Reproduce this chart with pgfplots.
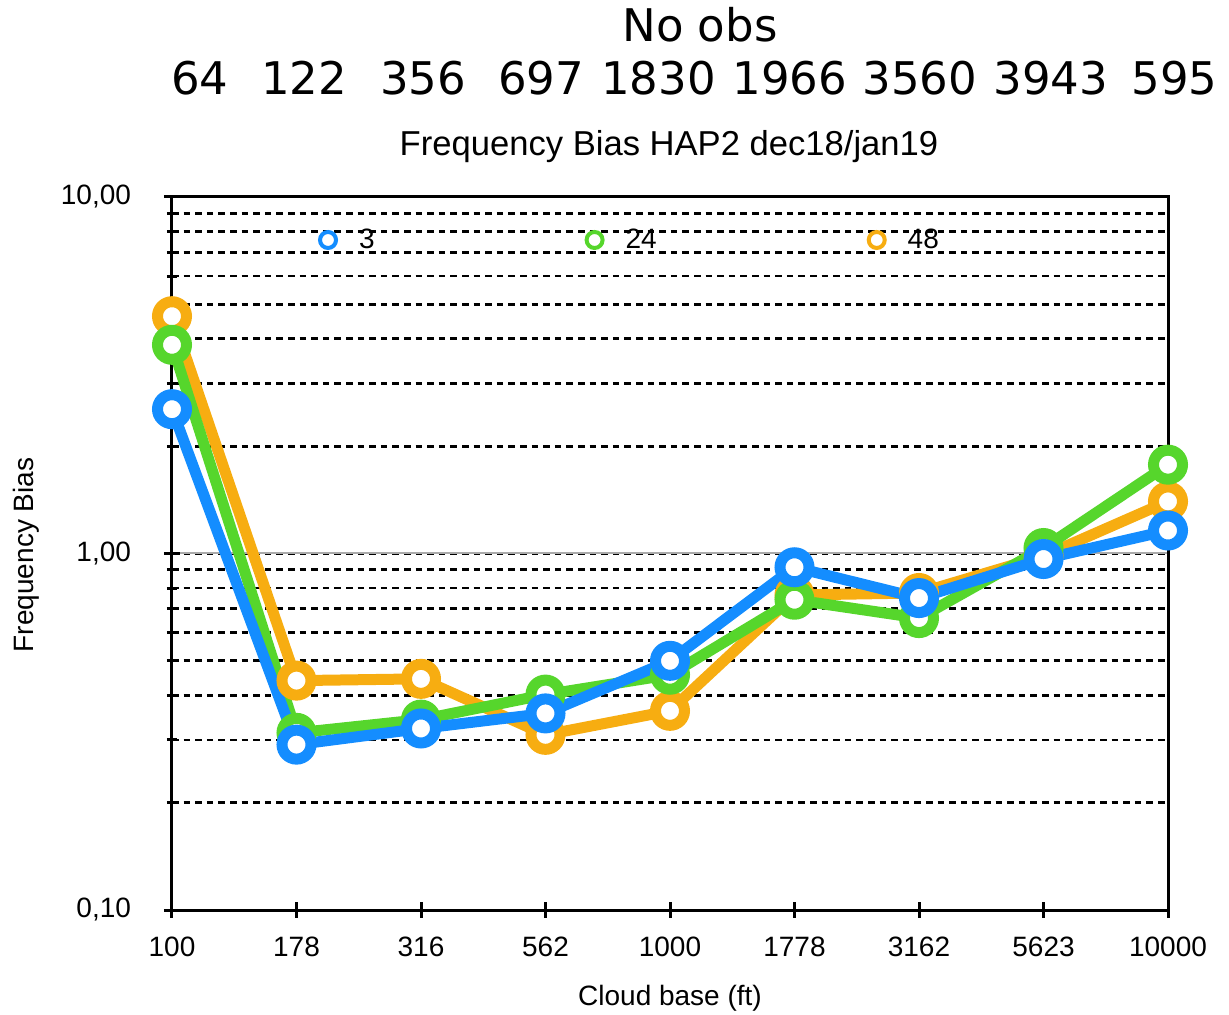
\documentclass[border=0pt]{standalone}
\usepackage{fontspec}
\setmainfont{Liberation Sans}
\newfontfamily\dejavu{DejaVu Sans}
\usepackage{pgfplots}
\pgfplotsset{compat=1.18}
\definecolor{cA}{RGB}{20,141,255}
\definecolor{cB}{RGB}{86,214,44}
\definecolor{cC}{RGB}{247,173,17}
\begin{document}
\begin{tikzpicture}
\useasboundingbox (-86bp,-52.5bp) rectangle (528.5bp,455bp);
\begin{axis}[
 at={(0,0)}, anchor=south west,
 scale only axis, width=498bp, height=356.5bp,
 xmin=0, xmax=8, ymode=log, ymin=0.1, ymax=10,
 clip=false,
 xtick={0,...,8}, xticklabels={100,178,316,562,1000,1778,3162,5623,10000},
 ytick={0.1,1,10}, yticklabels={{0,10},{1,00},{10,00}},
 tick pos=left, tick align=center,
 major tick length=8bp, minor tick length=5bp,
 tick style={black, line width=1.5bp},
 axis line style={line width=1.5bp, black},
 ymajorgrids, yminorgrids,
 major grid style={color=black!33, line width=1bp},
 minor grid style={black, line width=1.4bp, dash pattern=on 3.3bp off 2.5bp},
 ticklabel style={font=\fontsize{14bp}{16bp}\selectfont},
 xticklabel style={anchor=base, yshift=-19.5bp},
 yticklabel style={anchor=east, xshift=-13bp},
 legend columns=3, reverse legend,
 legend style={at={(0.1466,0.9397)}, anchor=west, draw=none, fill=none,
   font=\fontsize{14bp}{16bp}\selectfont, inner sep=0pt, outer sep=0pt,
   nodes={inner sep=0pt, outer sep=0pt},
   /tikz/every odd column/.append style={column sep=10.5bp},
   /tikz/every even column/.append style={column sep=105bp}},
]
\addplot[color=cC, line width=5.5bp, mark=*, mark size=7.25bp, mark options={fill=white, solid},
  legend image code/.code={\draw[draw=cC, fill=white, line width=2bp] (0bp,0bp) circle (4bp);}]
  coordinates {(0,4.63) (1,0.440) (2,0.445) (3,0.310) (4,0.362) (5,0.765) (6,0.775) (7,0.984) (8,1.40)};
\addlegendentry{48}
\addplot[color=cB, line width=5.5bp, mark=*, mark size=7.25bp, mark options={fill=white, solid},
  legend image code/.code={\draw[draw=cB, fill=white, line width=2bp] (0bp,0bp) circle (4bp);}]
  coordinates {(0,3.85) (1,0.314) (2,0.342) (3,0.402) (4,0.457) (5,0.742) (6,0.659) (7,1.036) (8,1.775)};
\addlegendentry{24}
\addplot[color=cA, line width=5.5bp, mark=*, mark size=7.25bp, mark options={fill=white, solid},
  legend image code/.code={\draw[draw=cA, fill=white, line width=2bp] (0bp,0bp) circle (4bp);}]
  coordinates {(0,2.54) (1,0.291) (2,0.323) (3,0.356) (4,0.500) (5,0.915) (6,0.750) (7,0.965) (8,1.16)};
\addlegendentry{3}
\end{axis}
\begin{scope}[every node/.style={font=\dejavu\fontsize{22.5bp}{26bp}\selectfont, anchor=base, inner sep=0pt}]
\node at (264bp,434bp) {No obs};
\node at (14bp,407.5bp) {64};
\node at (66bp,407.5bp) {122};
\node at (125.5bp,407.5bp) {356};
\node at (184.5bp,407.5bp) {697};
\node at (243.25bp,407.5bp) {1830};
\node at (309bp,407.5bp) {1966};
\node at (374bp,407.5bp) {3560};
\node at (439.5bp,407.5bp) {3943};
\node[anchor=base west] at (479.5bp,407.5bp) {595};
\end{scope}
\node[font=\fontsize{17.3bp}{20bp}\selectfont, anchor=base, inner sep=0pt] at (248.5bp,377bp) {Frequency Bias HAP2 dec18/jan19};
\node[font=\fontsize{14bp}{16bp}\selectfont, anchor=base, inner sep=0pt] at (249bp,-47.5bp) {Cloud base (ft)};
\node[font=\fontsize{14bp}{16bp}\selectfont, rotate=90, anchor=center] at (-73bp,177.5bp) {Frequency Bias};
\end{tikzpicture}
\end{document}
